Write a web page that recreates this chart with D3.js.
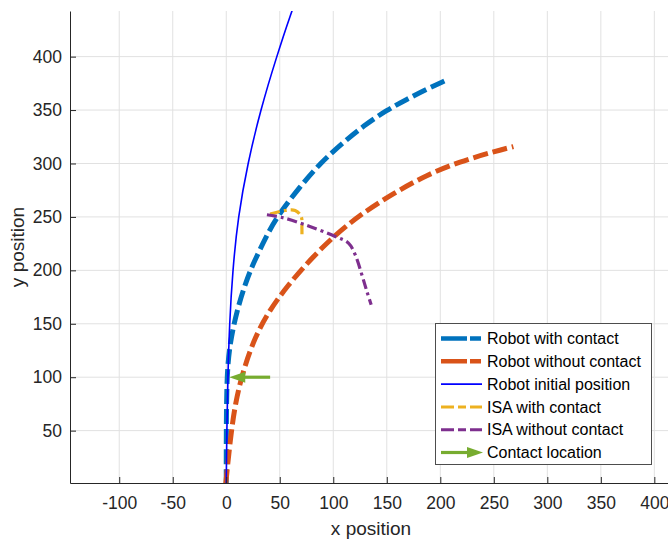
<!DOCTYPE html>
<html>
<head>
<meta charset="utf-8">
<script src="https://cdn.jsdelivr.net/npm/d3@7"></script>
<style>
  body { margin: 0; background: #fff; }
  svg { font-family: "Liberation Sans", Arial, Helvetica, sans-serif; }
</style>
</head>
<body>
<svg id="chart" width="668" height="541"></svg>
<script>
// trajectories (x, y in plot units)
var robotContact = [[0,0],[0,50],[0.5,100],[3,130],[10,163],[19,191],[25.5,207],[38,233],[47.3,250],[69,278.5],[87.8,300.3],[109.6,320],[128,335],[150,350],[168.7,360],[187,369.5],[205.5,378]];
var robotNoContact = [[-0.5,0],[3.7,41.6],[8.4,76],[16,107],[27,138],[40,162],[56.7,185],[78.4,210],[100.2,231.7],[125,252],[156,272],[187.4,289.4],[218.5,301.8],[249.6,311],[268.3,315.8]];
var robotInitial = [[0,0],[0.5,50],[1.5,100],[3,150],[6,200],[11,250],[20,300],[32,350],[47,400],[61.3,443],[66,455]];
var isaContact = [[41,252.6],[55,256],[64.4,256],[70,250.4],[70.7,239.5],[70.7,230.2]];
var isaNoContact = [[38,252],[52,249.5],[73.8,242.6],[101.8,231.7],[114.2,225.5],[120.5,214.6],[126.7,195.9],[131.4,180.3],[135.4,167.8]];
// contact arrow: tail and tip
var contactTail = [41, 100];
var contactTip = [2.8, 100];

var xTicks = [-100,-50,0,50,100,150,200,250,300,350,400];
var yTicks = [50,100,150,200,250,300,350,400];
var legendNames = ["Robot with contact","Robot without contact","Robot initial position","ISA with contact","ISA without contact","Contact location"];

var svg = d3.select("#chart");
var x = d3.scaleLinear().domain([-146, 416.5]).range([70, 672]);
var y = d3.scaleLinear().domain([1, 442.7]).range([483, 11]);
var axisCol = "#262626";

// grid
svg.append("g").selectAll("line").data(xTicks).enter().append("line")
  .attr("x1", d => x(d)).attr("x2", d => x(d))
  .attr("y1", 11).attr("y2", 483)
  .attr("stroke", "#e1e1e1").attr("stroke-width", 1);
svg.append("g").selectAll("line").data(yTicks).enter().append("line")
  .attr("x1", 70).attr("x2", 672)
  .attr("y1", d => y(d)).attr("y2", d => y(d))
  .attr("stroke", "#e1e1e1").attr("stroke-width", 1);

// clip for the data
svg.append("clipPath").attr("id", "clip").append("rect")
  .attr("x", 70).attr("y", 11).attr("width", 602).attr("height", 472);
var plot = svg.append("g").attr("clip-path", "url(#clip)");

var smooth = d3.line().x(d => x(d[0])).y(d => y(d[1])).curve(d3.curveBasis);
var line = d3.line().x(d => x(d[0])).y(d => y(d[1])).curve(d3.curveCatmullRom);

function drawLine(data, gen, color, width, dash) {
  plot.append("path").datum(data)
    .attr("d", gen)
    .attr("fill", "none")
    .attr("stroke", color)
    .attr("stroke-width", width)
    .attr("stroke-dasharray", dash)
    .attr("stroke-linejoin", "round");
}

drawLine(robotContact, smooth, "#0072BD", 5, "15,5");
drawLine(robotNoContact, smooth, "#D95319", 5, "15,5");
drawLine(robotInitial, smooth, "#0000FF", 1.6, null);
drawLine(isaContact, line, "#EDB120", 3.2, "10,4,3,4");
drawLine(isaNoContact, line, "#7E2F8E", 3.2, "10,4,3,4");

// contact arrow
var green = "#77AC30";
var headLen = 16, headW = 5.5;
plot.append("line")
  .attr("x1", x(contactTail[0])).attr("y1", y(contactTail[1]))
  .attr("x2", x(contactTip[0]) + headLen - 2).attr("y2", y(contactTip[1]))
  .attr("stroke", green).attr("stroke-width", 3.2);
var tx = x(contactTip[0]), ty = y(contactTip[1]);
plot.append("path")
  .attr("d", "M" + tx + "," + ty + "L" + (tx + headLen) + "," + (ty - headW) + "L" + (tx + headLen) + "," + (ty + headW) + "Z")
  .attr("fill", green);

// axes (plain hyphen for negatives, like the original)
var fmt = d => String(d);
var xAxis = d3.axisBottom(x).tickValues(xTicks).tickFormat(fmt).tickSize(-6).tickSizeOuter(0).tickPadding(14);
var yAxis = d3.axisLeft(y).tickValues(yTicks).tickFormat(fmt).tickSize(-6).tickSizeOuter(0).tickPadding(8);

var gx = svg.append("g").attr("transform", "translate(0,483)").call(xAxis);
var gy = svg.append("g").attr("transform", "translate(70,0)").call(yAxis);
[gx, gy].forEach(function(g) {
  g.select(".domain").attr("stroke", axisCol).attr("stroke-width", 1);
  g.selectAll(".tick line").attr("stroke", axisCol);
  g.selectAll(".tick text").attr("fill", axisCol).style("font-size", "17.5px")
    .style("font-family", "'Liberation Sans', Arial, sans-serif");
});
gx.selectAll(".tick text").attr("dy", "0.71em");

svg.append("text").attr("x", 371).attr("y", 535)
  .attr("text-anchor", "middle").attr("fill", axisCol)
  .style("font-size", "19px").text("x position");
svg.append("text").attr("transform", "translate(24,247) rotate(-90)")
  .attr("text-anchor", "middle").attr("fill", axisCol)
  .style("font-size", "19px").text("y position");

// legend
var lg = svg.append("g");
lg.append("rect").attr("x", 435.5).attr("y", 323.5).attr("width", 216).attr("height", 141)
  .attr("fill", "#fff").attr("stroke", "#4d4d4d").attr("stroke-width", 1);

var legendStyle = [
  {color: "#0072BD", w: 4.5, dash: "26,3,11"},
  {color: "#D95319", w: 4.5, dash: "26,3,11"},
  {color: "#0000FF", w: 1.6, dash: null},
  {color: "#EDB120", w: 3, dash: "13,4,8,4"},
  {color: "#7E2F8E", w: 3, dash: "13,4,8,4"},
  {color: green, w: 3.2, dash: null}
];

legendNames.forEach(function(name, i) {
  var cy = 338.5 + i * 22.8;
  var st = legendStyle[i];
  if (i === 5) {
    lg.append("line").attr("x1", 441).attr("x2", 470).attr("y1", cy).attr("y2", cy)
      .attr("stroke", st.color).attr("stroke-width", st.w);
    lg.append("path").attr("d", "M483," + cy + "L467," + (cy - 5.5) + "L467," + (cy + 5.5) + "Z")
      .attr("fill", st.color);
  } else {
    lg.append("line").attr("x1", 441).attr("x2", 482).attr("y1", cy).attr("y2", cy)
      .attr("stroke", st.color).attr("stroke-width", st.w)
      .attr("stroke-dasharray", st.dash);
  }
  lg.append("text").attr("x", 487).attr("y", cy).attr("dy", "0.35em")
    .attr("fill", "#000").style("font-size", "16px").text(name);
});
</script>
</body>
</html>
